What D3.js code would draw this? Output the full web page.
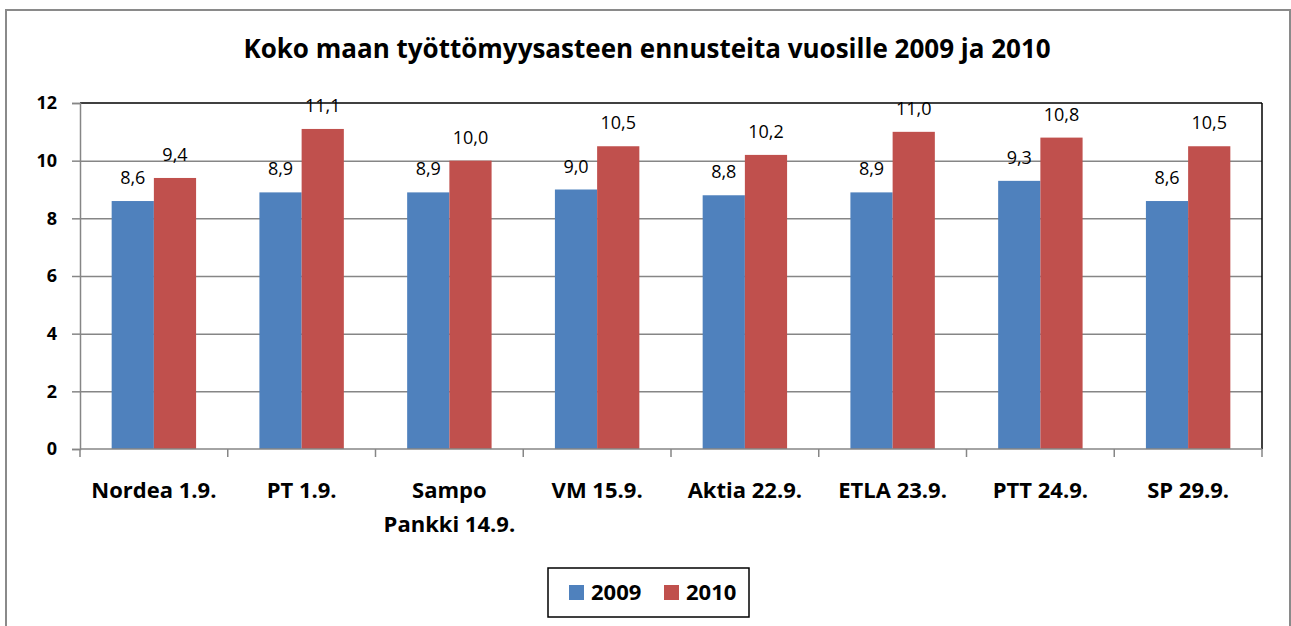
<!DOCTYPE html>
<html>
<head>
<meta charset="utf-8">
<script src="https://cdn.jsdelivr.net/npm/d3@7"></script>
<style>
  body { margin: 0; background: #fff; }
  svg { display: block; font-family: 'Open Sans', sans-serif; }
</style>
</head>
<body>
<div id="chart"></div>
<script>
// data
let categories = ['Nordea 1.9.', 'PT 1.9.', 'Sampo\nPankki 14.9.', 'VM 15.9.', 'Aktia 22.9.', 'ETLA 23.9.', 'PTT 24.9.', 'SP 29.9.']
let series = ['2009', '2010']
let values2009 = [8.6, 8.9, 8.9, 9.0, 8.8, 8.9, 9.3, 8.6]
let values2010 = [9.4, 11.1, 10.0, 10.5, 10.2, 11.0, 10.8, 10.5]
let yTicks = [0, 2, 4, 6, 8, 10, 12]
let title = 'Koko maan työttömyysasteen ennusteita vuosille 2009 ja 2010'

let svgWidth = 1291,
    svgHeight = 626

let margin = { top: 103, left: 80 },
    chartWidth = 1262 - 80,
    chartHeight = 449 - 103

let colorMap = { '2009': '#4F81BD', '2010': '#C0504D' }

let rows = categories.map((c, i) => ({ cat: c, '2009': values2009[i], '2010': values2010[i] }))

let fmt = d3.formatLocale({ decimal: ',', thousands: ' ', grouping: [3], currency: ['', ''] }).format('.1f')

let svg = d3.select('#chart')
    .append('svg')
    .attr('width', svgWidth)
    .attr('height', svgHeight)

// outer chart border
svg.append('rect')
    .attr('x', 6).attr('y', 10)
    .attr('width', 1284).attr('height', 640)
    .attr('fill', 'none')
    .attr('stroke', '#8a8a8a')
    .attr('stroke-width', 2)

svg.append('text')
    .attr('x', 647).attr('y', 58)
    .attr('text-anchor', 'middle')
    .attr('font-size', '26px')
    .attr('font-weight', 'bold')
    .text(title)

let x = d3.scaleBand()
    .domain(categories)
    .range([0, chartWidth])

// gap width 150% like excel
let xInner = d3.scaleBand()
    .domain(series)
    .range([0, x.bandwidth()])
    .paddingOuter(0.75)

let y = d3.scaleLinear()
    .domain([0, 12])
    .range([chartHeight, 0])

let g = svg.append('g')
    .attr('transform', `translate(${margin.left},${margin.top})`)

// gridlines
let grid = g.append('g')
    .call(d3.axisLeft(y).tickValues(yTicks.slice(1, -1)).tickSize(-chartWidth).tickFormat(''))
grid.select('.domain').remove()
grid.selectAll('line').attr('stroke', '#868686').attr('stroke-width', 1.5)

// plot frame top + right
g.append('line').attr('x1', 0).attr('x2', chartWidth).attr('y1', 0).attr('y2', 0)
    .attr('stroke', '#000').attr('stroke-width', 1.5)
g.append('line').attr('x1', chartWidth).attr('x2', chartWidth).attr('y1', 0).attr('y2', chartHeight)
    .attr('stroke', '#000').attr('stroke-width', 1.5)

// bars
let groups = g.selectAll('.group')
    .data(rows)
    .enter().append('g')
    .attr('class', 'group')
    .attr('transform', d => `translate(${x(d.cat)},0)`)

groups.selectAll('rect')
    .data(d => series.map(s => ({ key: s, value: d[s] })))
    .enter().append('rect')
    .attr('x', d => xInner(d.key))
    .attr('y', d => y(d.value))
    .attr('width', xInner.bandwidth())
    .attr('height', d => chartHeight - y(d.value))
    .attr('fill', d => colorMap[d.key])

groups.selectAll('.val')
    .data(d => series.map(s => ({ key: s, value: d[s] })))
    .enter().append('text')
    .attr('class', 'val')
    .attr('x', d => xInner(d.key) + xInner.bandwidth() / 2)
    .attr('y', d => y(d.value) - 17)
    .attr('text-anchor', 'middle')
    .attr('font-size', '18px')
    .attr('fill', '#000')
    .text(d => fmt(d.value))

// y axis
let yAxis = g.append('g')
    .call(d3.axisLeft(y).tickValues(yTicks).tickSize(8).tickPadding(15))
yAxis.select('.domain').attr('stroke', '#868686').attr('stroke-width', 1.5)
yAxis.selectAll('line').attr('stroke', '#868686').attr('stroke-width', 1.5)
yAxis.selectAll('text')
    .attr('font-size', '18px')
    .attr('font-weight', 'bold')
    .attr('font-family', "'Open Sans', sans-serif")
    .attr('fill', '#000')

// x axis, ticks sit between the categories
let xAxis = g.append('g')
    .attr('transform', `translate(0,${chartHeight})`)
xAxis.append('line')
    .attr('x1', 0).attr('x2', chartWidth)
    .attr('stroke', '#868686').attr('stroke-width', 1.5)
xAxis.selectAll('.tick')
    .data(categories.map(c => x(c)).concat([chartWidth]))
    .enter().append('line')
    .attr('class', 'tick')
    .attr('x1', d => d).attr('x2', d => d)
    .attr('y1', 0).attr('y2', 8)
    .attr('stroke', '#868686').attr('stroke-width', 1.5)

let xLabels = xAxis.selectAll('.label')
    .data(categories)
    .enter().append('text')
    .attr('class', 'label')
    .attr('text-anchor', 'middle')
    .attr('font-size', '22px')
    .attr('font-weight', 'bold')
    .attr('fill', '#000')
    .attr('transform', d => `translate(${x(d) + x.bandwidth() / 2},49)`)

xLabels.selectAll('tspan')
    .data(d => d.split('\n'))
    .enter().append('tspan')
    .attr('x', 0)
    .attr('y', (d, i) => i * 34)
    .text(d => d)

// legend
let legend = svg.append('g')
    .attr('transform', 'translate(548,568)')

legend.append('rect')
    .attr('width', 201).attr('height', 49)
    .attr('fill', '#fff')
    .attr('stroke', '#000')
    .attr('stroke-width', 1.5)

let keys = legend.selectAll('.key')
    .data(series)
    .enter().append('g')
    .attr('class', 'key')
    .attr('transform', (d, i) => `translate(${21 + i * 95},17)`)

keys.append('rect')
    .attr('width', 15).attr('height', 15)
    .attr('fill', d => colorMap[d])

keys.append('text')
    .attr('x', 22).attr('y', 15)
    .attr('font-size', '22px')
    .attr('font-weight', 'bold')
    .text(d => d)
</script>
</body>
</html>
